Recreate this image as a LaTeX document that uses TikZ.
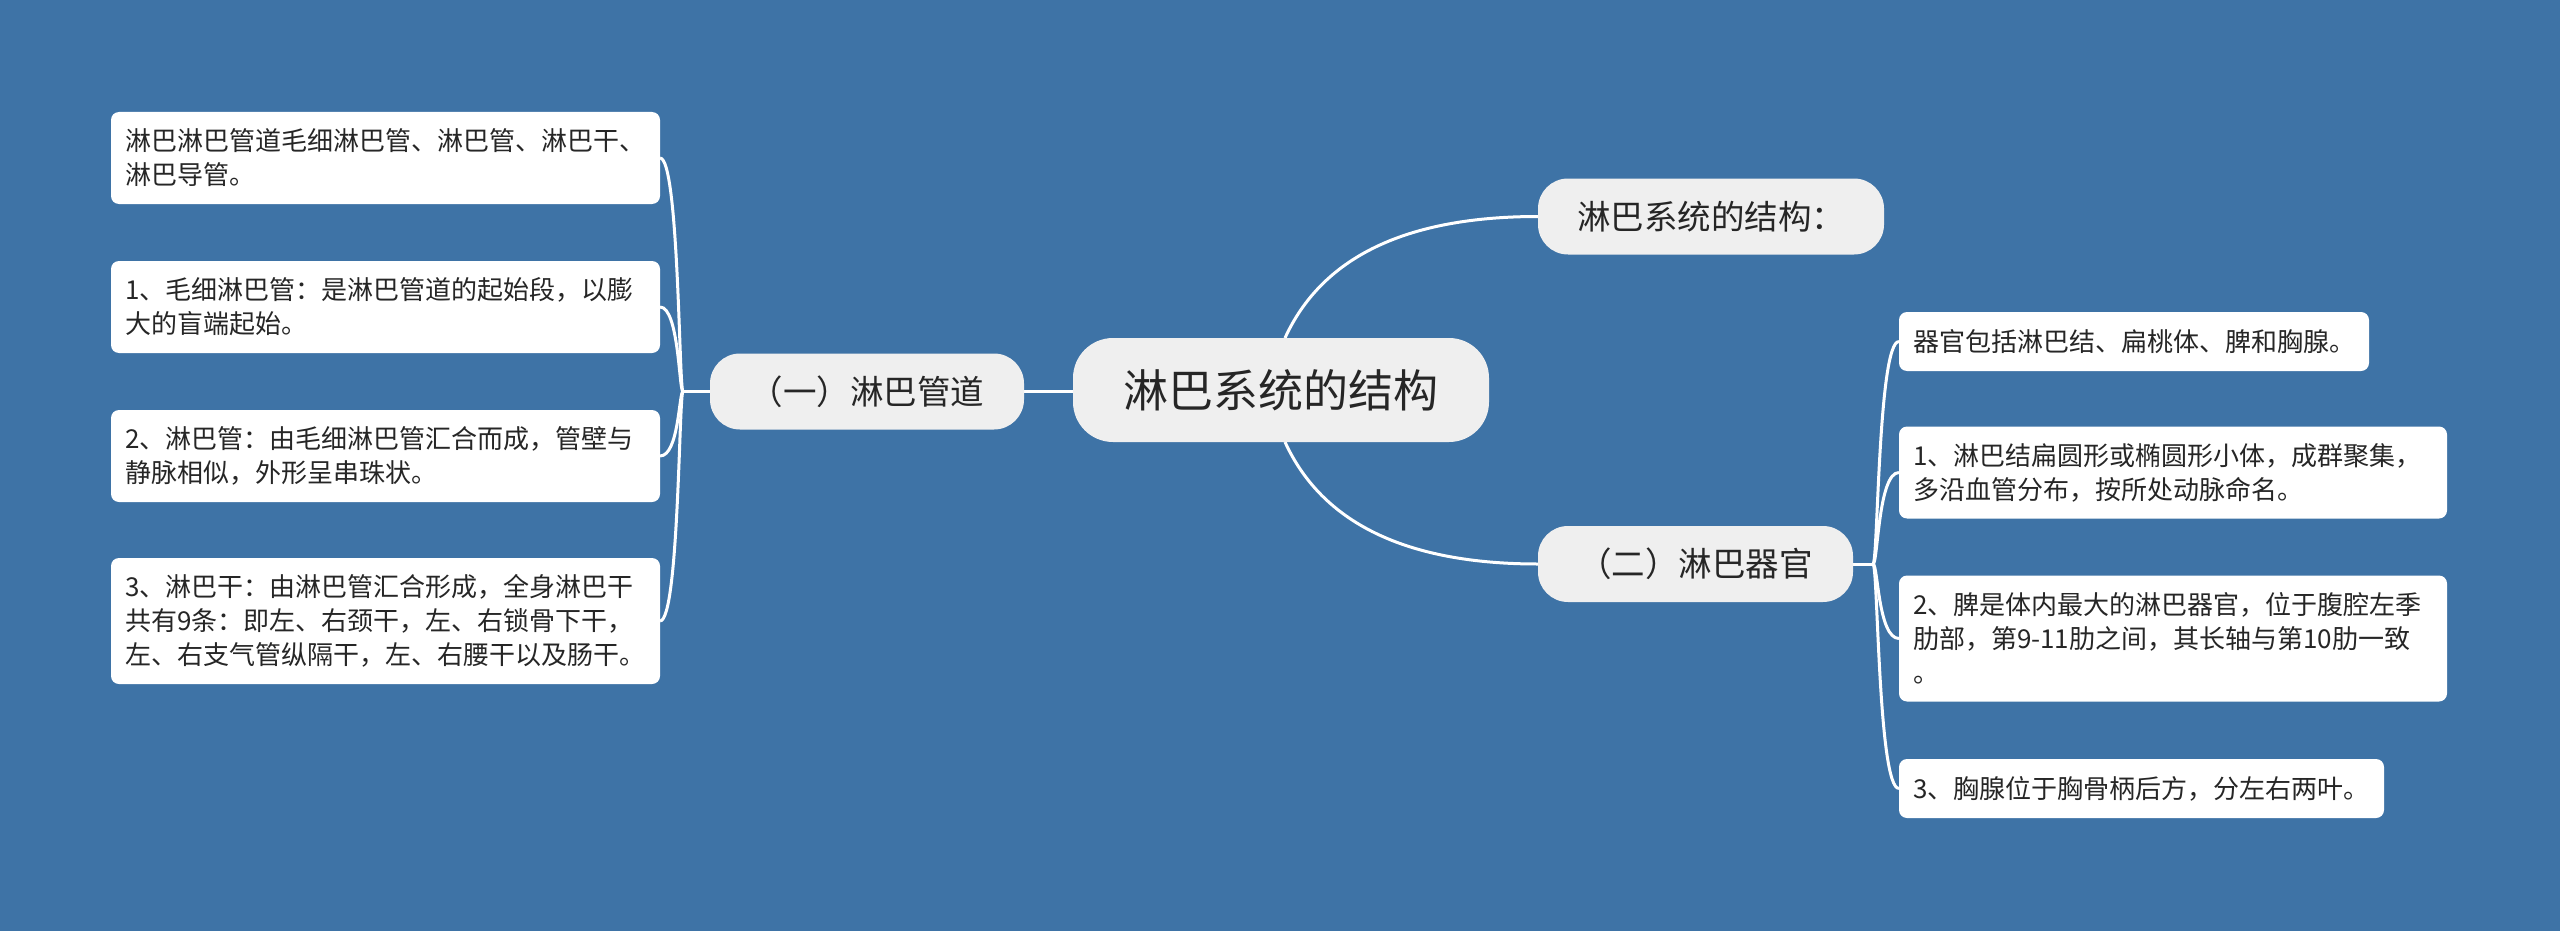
\documentclass[tikz,border=0pt]{standalone}
\usepackage{fontspec}
\setmainfont{Noto Sans CJK SC}
\usetikzlibrary{backgrounds}
\definecolor{bgblue}{HTML}{3E73A6}
\definecolor{nodegray}{HTML}{EFEFEF}
\definecolor{txt}{HTML}{262626}
\tikzset{
  rootbox/.style={fill=nodegray, draw=none, rounded corners=40pt, minimum width=416pt, minimum height=104pt, inner sep=0pt, outer sep=0pt, text=txt, font=\fontsize{45pt}{54pt}\selectfont},
  branchbox/.style={fill=nodegray, draw=none, rounded corners=30pt, minimum height=76pt, inner sep=0pt, outer sep=0pt, text=txt, font=\fontsize{33.5pt}{40pt}\selectfont},
  leafbox/.style={fill=white, draw=none, rounded corners=8pt, inner xsep=14pt, inner ysep=0pt, outer sep=0pt, align=left, text=txt, font=\fontsize{26pt}{34pt}\selectfont},
  link/.style={draw=white, line width=3pt}
}
\begin{document}
\begin{tikzpicture}[x=1pt,y=-1pt]
\useasboundingbox (0,0) rectangle (2560,931);
% central
\node[rootbox] (root) at (1281,390) {淋巴系统的结构};
% branches
\node[branchbox, minimum width=314pt] (b1) at (867,391.5) {（一）淋巴管道};
\node[branchbox, minimum width=346pt] (b2) at (1711,216.5) {淋巴系统的结构：};
\node[branchbox, minimum width=315pt] (b3) at (1695.5,564) {（二）淋巴器官};
% left leaves
\node[leafbox, anchor=east, text width=521pt, minimum height=92pt] (l1) at (660,158) {淋巴淋巴管道毛细淋巴管、淋巴管、淋巴干、\\淋巴导管。};
\node[leafbox, anchor=east, text width=521pt, minimum height=92pt] (l2) at (660,307) {1、毛细淋巴管：是淋巴管道的起始段，以膨\\大的盲端起始。};
\node[leafbox, anchor=east, text width=521pt, minimum height=92pt] (l3) at (660,456) {2、淋巴管：由毛细淋巴管汇合而成，管壁与\\静脉相似，外形呈串珠状。};
\node[leafbox, anchor=east, text width=521pt, minimum height=126pt] (l4) at (660,621) {3、淋巴干：由淋巴管汇合形成，全身淋巴干\\共有9条：即左、右颈干，左、右锁骨下干，\\左、右支气管纵隔干，左、右腰干以及肠干。};
% right leaves
\node[leafbox, anchor=west, text width=442pt, minimum height=59pt] (r1) at (1899,341.5) {器官包括淋巴结、扁桃体、脾和胸腺。};
\node[leafbox, anchor=west, text width=520pt, minimum height=92pt] (r2) at (1899,472.5) {1、淋巴结扁圆形或椭圆形小体，成群聚集，\\多沿血管分布，按所处动脉命名。};
\node[leafbox, anchor=west, text width=520pt, minimum height=126pt] (r3) at (1899,638.5) {2、脾是体内最大的淋巴器官，位于腹腔左季\\肋部，第9-11肋之间，其长轴与第10肋一致\\。};
\node[leafbox, anchor=west, text width=457pt, minimum height=59pt] (r4) at (1899,788.5) {3、胸腺位于胸骨柄后方，分左右两叶。};
% junctions
\coordinate (jL) at (683,391.5);
\coordinate (jR) at (1873,564);
\begin{pgfonlayer}{background}
\fill[bgblue] (0,0) rectangle (2560,931);
\draw[link] (b1.east) -- (b1.east -| root.west);
\draw[link] ([xshift=4pt]root.north) .. controls (1322,257) and (1406,216.5) .. (b2.west);
\draw[link] ([xshift=4pt]root.south) .. controls (1322,523) and (1406,564) .. (b3.west);
\draw[link] (b1.west) -- (jL);
\foreach \n in {l1,l2,l3,l4}{
  \draw[link] (jL) .. controls (679,391.5) and (679,0 |- \n.east) .. (\n.east);
}
\draw[link] (b3.east) -- (jR);
\foreach \n in {r1,r2,r3,r4}{
  \draw[link] (jR) .. controls (1878,564) and (1878,0 |- \n.west) .. (\n.west);
}
\end{pgfonlayer}
\end{tikzpicture}
\end{document}
